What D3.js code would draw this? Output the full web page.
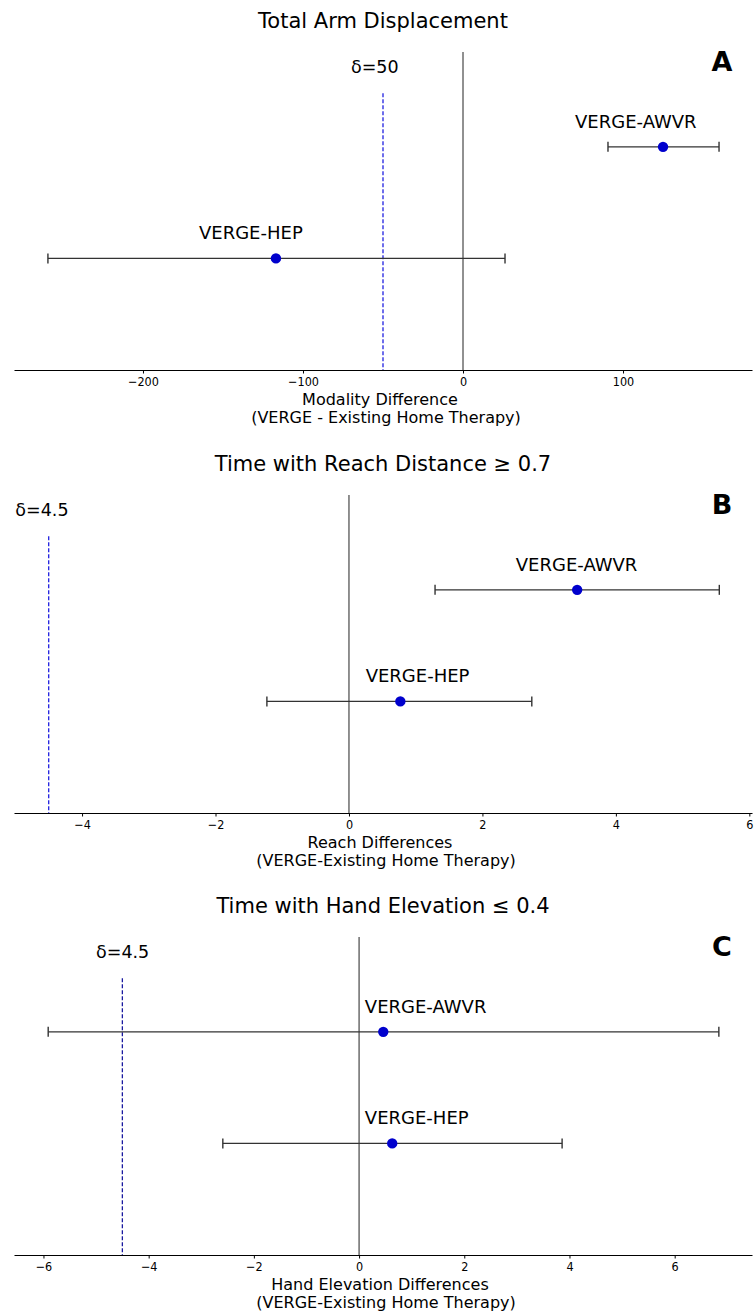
<!DOCTYPE html>
<html>
<head>
<meta charset="utf-8">
<script src="https://cdn.jsdelivr.net/npm/d3@7"></script>
<style>
  body { margin: 0; background: #fff; }
  text { font-family: "DejaVu Sans", sans-serif; fill: #000; }
  .tick text { font-family: "DejaVu Sans Condensed", "DejaVu Sans", sans-serif; font-stretch: condensed; font-size: 12.5px; }
</style>
</head>
<body>
<div id="chart"></div>
<script>
/*------------------------------
 DATA
 ----------------------------*/
const titles = ["Total Arm Displacement", "Time with Reach Distance \u2265 0.7", "Time with Hand Elevation \u2264 0.4"];
const letters = ["A", "B", "C"];
const xLabels1 = ["Modality Difference", "Reach Differences", "Hand Elevation Differences"];
const xLabels2 = ["(VERGE - Existing Home Therapy)", "(VERGE-Existing Home Therapy)", "(VERGE-Existing Home Therapy)"];
const xDomains = [[-280.6, 180.6], [-5.02, 6.04], [-6.56, 7.47]];
const xTicks = [[-200, -100, 0, 100], [-4, -2, 0, 2, 4, 6], [-6, -4, -2, 0, 2, 4, 6]];

const modalities = ["VERGE-AWVR", "VERGE-HEP"];
const rowY = [2, 1];
// [AWVR, HEP] per panel
const means = [[125, -116.9], [3.42, 0.77], [0.46, 0.63]];
const lows = [[90.6, -259.4], [1.29, -1.23], [-5.91, -2.59]];
const highs = [[160, 26.25], [5.55, 2.74], [6.84, 3.86]];
const labelX = [[70, -165], [2.5, 0.25], [0.11, 0.11]];

const deltas = [-50, -4.5, -4.5];
const deltaText = ["\u03b4=50", "\u03b4=4.5", "\u03b4=4.5"];
const deltaLabelX = [-70, -5, -5];

/*------------------------------
 LAYOUT
 ----------------------------*/
const SVG_WIDTH = 755;
const SVG_HEIGHT = 1312;
const AX_LEFT = 14, AX_RIGHT = 752;
const PANEL_TOPS = [52, 495, 937];
const AX_HEIGHT = 318;

const svg = d3.select("#chart").append("svg")
  .attr("width", SVG_WIDTH).attr("height", SVG_HEIGHT);

titles.forEach((title, i) => {
  const top = PANEL_TOPS[i];
  const g = svg.append("g").attr("transform", `translate(0, ${top})`);

  const x = d3.scaleLinear().domain(xDomains[i]).range([AX_LEFT, AX_RIGHT]);
  const y = d3.scaleLinear().domain([0, 2.85]).range([AX_HEIGHT, 0]);

  // title
  svg.append("text")
    .attr("x", 383).attr("y", top - 24)
    .attr("text-anchor", "middle")
    .style("font-size", "21px")
    .text(title);

  // panel letter
  g.append("text")
    .attr("x", 722).attr("y", 19)
    .attr("text-anchor", "middle")
    .style("font-size", "27px").style("font-weight", "bold")
    .text(letters[i]);

  // zero line
  g.append("line")
    .attr("x1", x(0)).attr("x2", x(0))
    .attr("y1", 0).attr("y2", AX_HEIGHT)
    .attr("stroke", "#222").attr("stroke-width", 1);

  // delta line
  g.append("line")
    .attr("x1", x(deltas[i])).attr("x2", x(deltas[i]))
    .attr("y1", y(2.48)).attr("y2", AX_HEIGHT)
    .attr("stroke", i === 2 ? "#1a1aa0" : "#2020e0")
    .attr("stroke-width", 1.3)
    .attr("stroke-dasharray", "4,2");

  g.append("text")
    .attr("x", x(deltaLabelX[i])).attr("y", y(2.71) + 5)
    .style("font-size", "17.5px")
    .text(deltaText[i]);

  // error bars
  modalities.forEach((m, j) => {
    const cy = y(rowY[j]);
    const eg = g.append("g");
    eg.append("line")
      .attr("x1", x(lows[i][j])).attr("x2", x(highs[i][j]))
      .attr("y1", cy).attr("y2", cy)
      .attr("stroke", "#333").attr("stroke-width", 1.4);
    [lows[i][j], highs[i][j]].forEach(v => {
      eg.append("line")
        .attr("x1", x(v)).attr("x2", x(v))
        .attr("y1", cy - 5).attr("y2", cy + 5)
        .attr("stroke", "#333").attr("stroke-width", 1.4);
    });
    eg.append("circle")
      .attr("cx", x(means[i][j])).attr("cy", cy)
      .attr("r", 5.2)
      .attr("fill", "#0000cd");
    g.append("text")
      .attr("x", x(labelX[i][j])).attr("y", y(rowY[j] + 0.2) + 3)
      .style("font-size", "18px")
      .text(m);
  });

  // x axis
  const xAxis = g.append("g")
    .attr("transform", `translate(0, ${AX_HEIGHT})`)
    .call(d3.axisBottom(x).tickValues(xTicks[i]).tickSize(3.5).tickSizeOuter(0).tickPadding(4));
  xAxis.select(".domain").attr("stroke", "#000").attr("stroke-width", 1);
  xAxis.selectAll(".tick text").attr("fill", "#000");

  g.append("text")
    .attr("x", (AX_LEFT + AX_RIGHT) / 2 - 3).attr("y", AX_HEIGHT + 35)
    .attr("text-anchor", "middle")
    .style("font-size", "16px")
    .text(xLabels1[i]);
  g.append("text")
    .attr("x", (AX_LEFT + AX_RIGHT) / 2 + 3).attr("y", AX_HEIGHT + 53)
    .attr("text-anchor", "middle")
    .style("font-size", "16px")
    .text(xLabels2[i]);
});
</script>
</body>
</html>
